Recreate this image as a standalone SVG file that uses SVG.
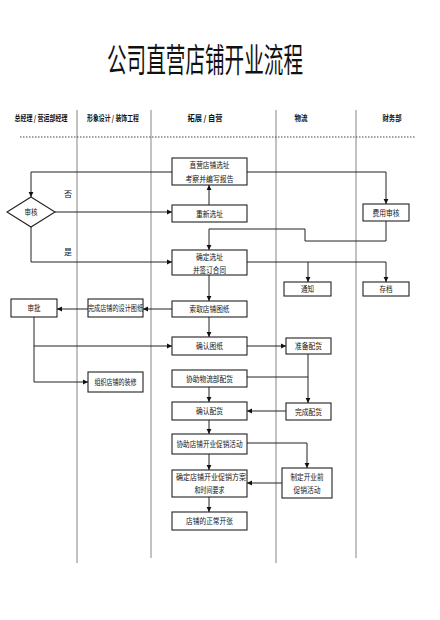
<svg xmlns="http://www.w3.org/2000/svg" width="440" height="620" viewBox="0 0 440 620">
<style>
.lane{stroke:#a8a8a8;stroke-width:1.4;fill:none}
.box{fill:#fff;stroke:#222;stroke-width:1.1}
.t{font-family:"Noto Sans CJK SC","Noto Sans",sans-serif;font-size:8px;fill:#111;text-anchor:middle}
.h{font-family:"Noto Sans CJK SC","Noto Sans",sans-serif;font-size:8px;font-weight:bold;fill:#111;text-anchor:middle}
.c{stroke:#222;stroke-width:1;fill:none}
</style>
<defs>
<marker id="a" markerUnits="userSpaceOnUse" markerWidth="6" markerHeight="6" refX="5" refY="3" orient="auto">
<path d="M0,0.6 L5,3 L0,5.4 Z" fill="#111"/>
</marker>
</defs>
<rect width="440" height="620" fill="#fff"/>
<text x="205" y="72" font-family="'Noto Sans CJK SC',sans-serif" font-size="33" fill="#111" text-anchor="middle" textLength="196" lengthAdjust="spacingAndGlyphs">公司直营店铺开业流程</text>
<g id="headers">
<text class="h" x="41" y="121" textLength="53" lengthAdjust="spacingAndGlyphs">总经理 / 营运部经理</text>
<text class="h" x="113" y="121" textLength="52" lengthAdjust="spacingAndGlyphs">形象设计 / 装饰工程</text>
<text class="h" x="205" y="121" textLength="35" lengthAdjust="spacingAndGlyphs">拓展 / 自营</text>
<text class="h" x="301" y="121" textLength="13" lengthAdjust="spacingAndGlyphs">物流</text>
<text class="h" x="392" y="121" textLength="19" lengthAdjust="spacingAndGlyphs">财务部</text>
</g>
<g id="lanes">
<line class="lane" x1="77" y1="110" x2="77" y2="563"/>
<line class="lane" x1="151" y1="110" x2="151" y2="558"/>
<line class="lane" x1="276" y1="110" x2="276" y2="563"/>
<line class="lane" x1="356" y1="110" x2="356" y2="558"/>
<line x1="20" y1="137" x2="416" y2="137" stroke="#333" stroke-width="0.9" stroke-dasharray="1.5,1.5"/>
</g>
<g id="connectors">
<path class="c" d="M172,172 H31 V197" marker-end="url(#a)"/>
<path class="c" d="M247,172 H386 V204" marker-end="url(#a)"/>
<path class="c" d="M55,212 H172" marker-end="url(#a)"/>
<path class="c" d="M209,205 V185" marker-end="url(#a)"/>
<path class="c" d="M31,227 V262 H172" marker-end="url(#a)"/>
<path class="c" d="M386,221 V241 H305 V229 H209 V250" marker-end="url(#a)"/>
<path class="c" d="M247,262 H386 V282" marker-end="url(#a)"/>
<path class="c" d="M308,262 V282" marker-end="url(#a)"/>
<path class="c" d="M209,275 V301" marker-end="url(#a)"/>
<path class="c" d="M172,309 H143" marker-end="url(#a)"/>
<path class="c" d="M88,309 H57" marker-end="url(#a)"/>
<path class="c" d="M209,317 V337" marker-end="url(#a)"/>
<path class="c" d="M34,317 V346 H172" marker-end="url(#a)"/>
<path class="c" d="M34,346 V382 H88" marker-end="url(#a)"/>
<path class="c" d="M247,346 H286" marker-end="url(#a)"/>
<path class="c" d="M308,354 V403" marker-end="url(#a)"/>
<path class="c" d="M247,377 H308"/>
<path class="c" d="M209,387 V402" marker-end="url(#a)"/>
<path class="c" d="M286,411 H247" marker-end="url(#a)"/>
<path class="c" d="M209,420 V434" marker-end="url(#a)"/>
<path class="c" d="M247,443 H307 V468" marker-end="url(#a)"/>
<path class="c" d="M209,454 V470" marker-end="url(#a)"/>
<path class="c" d="M282,483 H247" marker-end="url(#a)"/>
<path class="c" d="M209,497 V512" marker-end="url(#a)"/>
<text class="t" x="68" y="197">否</text>
<text class="t" x="68" y="255">是</text>
</g>
<g id="n1"><rect class="box" x="172" y="158" width="75" height="27"/><text class="t" x="209.5" y="168" textLength="40" lengthAdjust="spacingAndGlyphs">直营店铺选址</text><text class="t" x="209.5" y="182" textLength="48" lengthAdjust="spacingAndGlyphs">考察并编写报告</text></g>
<g id="n2"><rect class="box" x="172" y="205" width="75" height="17"/><text class="t" x="209.5" y="216.5" textLength="27" lengthAdjust="spacingAndGlyphs">重新选址</text></g>
<g id="n3"><rect class="box" x="172" y="250" width="75" height="25"/><text class="t" x="209.5" y="260" textLength="27" lengthAdjust="spacingAndGlyphs">确定选址</text><text class="t" x="209.5" y="273" textLength="33" lengthAdjust="spacingAndGlyphs">并签订合同</text></g>
<g id="n4"><rect class="box" x="172" y="301" width="75" height="16"/><text class="t" x="209.5" y="312" textLength="40" lengthAdjust="spacingAndGlyphs">索取店铺图纸</text></g>
<g id="n5"><rect class="box" x="172" y="337" width="75" height="18"/><text class="t" x="209.5" y="349" textLength="27" lengthAdjust="spacingAndGlyphs">确认图纸</text></g>
<g id="n6"><rect class="box" x="172" y="370" width="75" height="17"/><text class="t" x="209.5" y="381.5" textLength="47" lengthAdjust="spacingAndGlyphs">协助物流部配货</text></g>
<g id="n7"><rect class="box" x="172" y="402" width="75" height="18"/><text class="t" x="209.5" y="414" textLength="27" lengthAdjust="spacingAndGlyphs">确认配货</text></g>
<g id="n8"><rect class="box" x="172" y="434" width="75" height="20"/><text class="t" x="209.5" y="447" textLength="66" lengthAdjust="spacingAndGlyphs">协助店铺开业促销活动</text></g>
<g id="n9"><rect class="box" x="172" y="470" width="75" height="27"/><text class="t" x="211" y="480" textLength="70" lengthAdjust="spacingAndGlyphs">确定店铺开业促销方案</text><text class="t" x="209.5" y="493" textLength="30" lengthAdjust="spacingAndGlyphs">和时间要求</text></g>
<g id="n10"><rect class="box" x="172" y="512" width="75" height="18"/><text class="t" x="209.5" y="524" textLength="47" lengthAdjust="spacingAndGlyphs">店铺的正常开张</text></g>
<g id="d1"><path class="box" d="M31,197 L55,212 L31,227 L7,212 Z"/><text class="t" x="31" y="215" textLength="13" lengthAdjust="spacingAndGlyphs">审核</text></g>
<g id="n11"><rect class="box" x="11" y="299" width="46" height="18"/><text class="t" x="34" y="311" textLength="13" lengthAdjust="spacingAndGlyphs">审批</text></g>
<g id="n12"><rect class="box" x="88" y="299" width="55" height="18"/><text class="t" x="115.5" y="311" textLength="55" lengthAdjust="spacingAndGlyphs">完成店铺的设计图纸</text></g>
<g id="n13"><rect class="box" x="88" y="372" width="55" height="20"/><text class="t" x="115.5" y="385" textLength="42" lengthAdjust="spacingAndGlyphs">组织店铺的装修</text></g>
<g id="n14"><rect class="box" x="284" y="282" width="47" height="14"/><text class="t" x="307.5" y="292" textLength="13" lengthAdjust="spacingAndGlyphs">通知</text></g>
<g id="n15"><rect class="box" x="286" y="338" width="45" height="16"/><text class="t" x="308.5" y="349" textLength="27" lengthAdjust="spacingAndGlyphs">准备配货</text></g>
<g id="n16"><rect class="box" x="286" y="403" width="45" height="17"/><text class="t" x="308.5" y="414.5" textLength="27" lengthAdjust="spacingAndGlyphs">完成配货</text></g>
<g id="n17"><rect class="box" x="282" y="468" width="50" height="30"/><text class="t" x="307" y="480" textLength="33" lengthAdjust="spacingAndGlyphs">制定开业前</text><text class="t" x="307" y="493" textLength="27" lengthAdjust="spacingAndGlyphs">促销活动</text></g>
<g id="n18"><rect class="box" x="363" y="204" width="46" height="17"/><text class="t" x="386" y="215.5" textLength="27" lengthAdjust="spacingAndGlyphs">费用审核</text></g>
<g id="n19"><rect class="box" x="363" y="282" width="46" height="14"/><text class="t" x="386" y="292" textLength="13" lengthAdjust="spacingAndGlyphs">存档</text></g>
</svg>
